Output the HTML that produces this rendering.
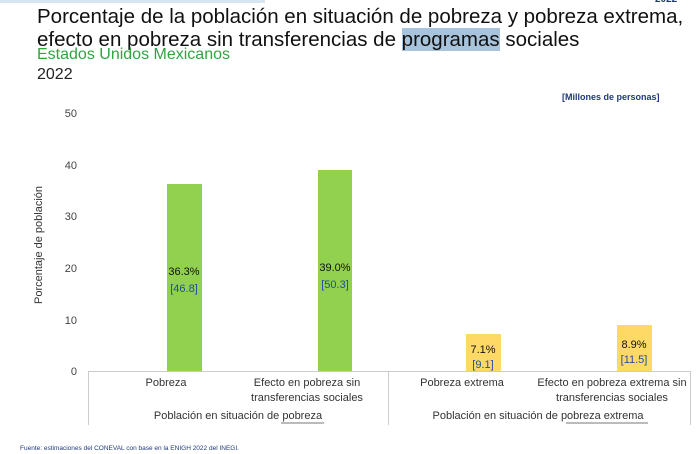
<!DOCTYPE html>
<html><head><style>
body{margin:0;width:700px;height:454px;background:#fff;font-family:"Liberation Sans",sans-serif;position:relative;overflow:hidden}
.a{position:absolute;white-space:nowrap}
</style></head><body>
<div class="a" style="left:0;top:0;width:265px;height:3px;background:#d8e4ee"></div>
<div class="a" style="left:655px;top:-6px;font-size:10px;font-weight:bold;color:#1f3a7a">2022</div>
<div class="a" style="left:37px;top:5px;font-size:20.5px;color:#111;line-height:23px">Porcentaje de la población en situación de pobreza y pobreza extrema,<br>efecto en pobreza sin transferencias de <span style="background:#a8c4dc">programas</span> sociales</div>
<div class="a" style="left:37px;top:46px;font-size:16px;color:#2ea640">Estados Unidos Mexicanos</div>
<div class="a" style="left:37px;top:66px;font-size:16px;color:#222">2022</div>
<div class="a" style="left:562px;top:92px;font-size:9px;font-weight:bold;color:#1f3a7a">[Millones de personas]</div>
<svg class="a" style="left:0;top:0" width="700" height="454" font-family="Liberation Sans, sans-serif">
<g font-size="11" fill="#444" text-anchor="end">
<text x="77" y="117">50</text><text x="77" y="169">40</text><text x="77" y="220">30</text><text x="77" y="272">20</text><text x="77" y="324">10</text><text x="77" y="375">0</text>
</g>
<text transform="translate(42,245) rotate(-90)" font-size="11" fill="#333" text-anchor="middle">Porcentaje de población</text>
<rect x="167" y="184" width="35" height="187" fill="#92d050"/>
<rect x="318" y="170" width="34" height="201" fill="#92d050"/>
<rect x="466" y="334" width="35" height="37" fill="#ffd966"/>
<rect x="617" y="325" width="35" height="46" fill="#ffd966"/>
<g font-size="11" text-anchor="middle">
<text x="184" y="275" fill="#111">36.3%</text><text x="184" y="292" fill="#1f4e9a">[46.8]</text>
<text x="335" y="271" fill="#111">39.0%</text><text x="335" y="288" fill="#1f4e9a">[50.3]</text>
<text x="483" y="353" fill="#111">7.1%</text><text x="483" y="368" fill="#1f4e9a">[9.1]</text>
<text x="634" y="348" fill="#111">8.9%</text><text x="634" y="363" fill="#1f4e9a">[11.5]</text>
</g>
<g stroke="#ccc" stroke-width="1">
<line x1="88" y1="371.5" x2="690" y2="371.5"/>
<line x1="88.5" y1="371" x2="88.5" y2="425"/>
<line x1="388.5" y1="371" x2="388.5" y2="425"/>
<line x1="690.5" y1="371" x2="690.5" y2="425"/>
</g>
<g font-size="11" fill="#333" text-anchor="middle">
<text x="166" y="386">Pobreza</text>
<text x="307" y="386">Efecto en pobreza sin</text><text x="307" y="401">transferencias sociales</text>
<text x="462" y="386">Pobreza extrema</text>
<text x="612" y="386">Efecto en pobreza extrema sin</text><text x="612" y="401">transferencias sociales</text>
<text x="238" y="419">Población en situación de pobreza</text>
<text x="538" y="419">Población en situación de pobreza extrema</text>
</g>
<line x1="281" y1="423" x2="324" y2="423" stroke="#777"/>
<line x1="566" y1="423" x2="648" y2="423" stroke="#777"/>
<text x="20" y="450" font-size="6.5" fill="#1f3a7a">Fuente: estimaciones del CONEVAL con base en la ENIGH 2022 del INEGI.</text>
</svg>
</body></html>
